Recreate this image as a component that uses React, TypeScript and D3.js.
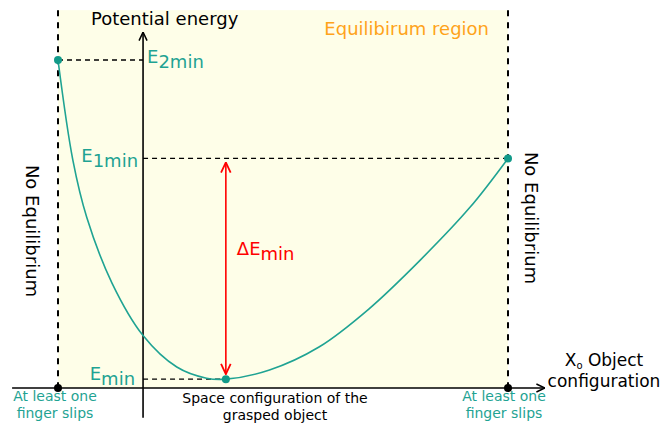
import React from "react";
import * as d3 from "d3";

// curve samples (x: 0 = left slip limit, 100 = right slip limit)
const curveX = [0, 3.3, 6.4, 12, 18.9, 26.4, 33, 37.3, 47, 58, 69, 80.5, 91.5, 100];
const curveY = [100, 69.5, 52, 32, 16, 6.4, 3, 2.7, 5.5, 12.5, 24, 39, 55, 70];

// energy levels
const levelNames = ["E2min", "E1min", "Emin"];
const levelX = [0, 100, 37.3];
const levelY = [100, 70, 2.7];

const yAxisAt = 18.9;
const slipX = [0, 100];
const xAxisExtent = [-10.2, 108.2];
const yAxisExtent = [-9.1, 108.5];
const regionTop = 115.2;

const teal = "#1fa393";
const dotTeal = "#129a89";
const font = "'DejaVu Sans', Verdana, sans-serif";

export default function App() {
  const width = 662;
  const height = 425;

  const x = d3.scaleLinear().domain([0, 100]).range([58, 508]);
  const y = d3.scaleLinear().domain([0, 100]).range([388, 60]);

  const pts: [number, number][] = curveX.map((d, i) => [d, curveY[i]]);
  const line = d3
    .line<[number, number]>()
    .x((d) => x(d[0]))
    .y((d) => y(d[1]))
    .curve(d3.curveCatmullRom.alpha(0.5));

  const ax = x(yAxisAt);
  const [e2, e1, e0] = levelNames.map((n, i) => ({ n, x: levelX[i], y: levelY[i] }));

  return (
    <svg
      width={width}
      height={height}
      style={{ position: "absolute", left: 0, top: 0, background: "#fff" }}
      fontFamily={font}
    >
      <defs>
        <marker
          id="open"
          viewBox="0 0 10 10"
          refX="9.5"
          refY="5"
          markerWidth="10"
          markerHeight="10"
          markerUnits="userSpaceOnUse"
          orient="auto-start-reverse"
        >
          <path d="M1,1 L9.5,5 L1,9" fill="none" stroke="#000" strokeWidth="1.5" />
        </marker>
        <marker
          id="red"
          viewBox="0 0 10 10"
          refX="9.5"
          refY="5"
          markerWidth="12"
          markerHeight="12"
          markerUnits="userSpaceOnUse"
          orient="auto-start-reverse"
        >
          <path d="M1,1 L9.5,5 L1,9" fill="none" stroke="#ff0000" strokeWidth="1.5" />
        </marker>
      </defs>

      {/* equilibrium region */}
      <rect
        x={x(slipX[0])}
        y={y(regionTop)}
        width={x(slipX[1]) - x(slipX[0])}
        height={y(0) - y(regionTop)}
        fill="#fefee8"
      />
      {slipX.map((s) => (
        <line
          key={s}
          x1={x(s)}
          x2={x(s)}
          y1={y(regionTop)}
          y2={y(0)}
          stroke="#000"
          strokeWidth={2}
          strokeDasharray="6,6"
        />
      ))}

      {/* level guides */}
      <g stroke="#000" strokeWidth={1.4} strokeDasharray="5,4">
        <line x1={x(e2.x)} x2={ax} y1={y(e2.y)} y2={y(e2.y)} />
        <line x1={ax} x2={x(e1.x)} y1={y(e1.y)} y2={y(e1.y)} />
        <line x1={ax} x2={x(e0.x)} y1={y(e0.y)} y2={y(e0.y)} />
      </g>

      {/* axes */}
      <line
        x1={x(xAxisExtent[0])}
        x2={x(xAxisExtent[1])}
        y1={y(0)}
        y2={y(0)}
        stroke="#000"
        strokeWidth={1.6}
        markerEnd="url(#open)"
      />
      <line
        x1={ax}
        x2={ax}
        y1={y(yAxisExtent[0])}
        y2={y(yAxisExtent[1])}
        stroke="#000"
        strokeWidth={1.6}
        markerEnd="url(#open)"
      />

      {/* curve */}
      <path d={line(pts) ?? ""} fill="none" stroke={teal} strokeWidth={1.6} />

      {/* delta arrow */}
      <line
        x1={x(e0.x)}
        x2={x(e0.x)}
        y1={y(e0.y) - 5}
        y2={y(e1.y) + 4}
        stroke="#ff0000"
        strokeWidth={1.6}
        markerStart="url(#red)"
        markerEnd="url(#red)"
      />

      {/* dots */}
      {[e2, e1, e0].map((d) => (
        <circle key={d.n} cx={x(d.x)} cy={y(d.y)} r={4} fill={dotTeal} />
      ))}
      {slipX.map((s) => (
        <circle key={s} cx={x(s)} cy={y(0)} r={4} fill="#000" />
      ))}

      {/* level labels */}
      <g fill={teal} fontSize={18}>
        <text x={ax + 4} y={y(e2.y) + 3}>
          E<tspan dy={4.5}>2min</tspan>
        </text>
        <text x={ax - 5} y={y(e1.y) + 4} textAnchor="end">
          E<tspan dy={4.5}>1min</tspan>
        </text>
        <text x={ax - 8} y={y(e0.y) + 1} textAnchor="end">
          E<tspan dy={4.5}>min</tspan>
        </text>
      </g>
      <text x={x(e0.x) + 11} y={255} fill="#ff0000" fontSize={18}>
        ΔE<tspan dy={4.5}>min</tspan>
      </text>

      {/* titles */}
      <text x={91} y={25} fontSize={18} fill="#000">
        Potential energy
      </text>
      <text x={489} y={35} fontSize={18} fill="#ffa31a" textAnchor="end">
        Equilibirum region
      </text>
      <text
        transform={`translate(32,231) rotate(90)`}
        fontSize={18}
        textAnchor="middle"
        dominantBaseline="central"
        fill="#000"
      >
        No Equilibrium
      </text>
      <text
        transform={`translate(531,218) rotate(90)`}
        fontSize={18}
        textAnchor="middle"
        dominantBaseline="central"
        fill="#000"
      >
        No Equilibrium
      </text>

      {/* x axis labels */}
      <text x={604} y={366} fontSize={17} textAnchor="middle" fill="#000">
        X<tspan fontSize={10} dy={3}>o</tspan>
        <tspan dy={-3}> Object</tspan>
      </text>
      <text x={604} y={387} fontSize={17} textAnchor="middle" fill="#000">
        configuration
      </text>
      <g fontSize={14} fill="#000" textAnchor="middle">
        <text x={275} y={402.5}>Space configuration of the</text>
        <text x={275} y={419.5}>grasped object</text>
      </g>
      <g fontSize={14} fill={teal} textAnchor="middle">
        {slipX.map((s, i) => (
          <g key={s}>
            <text x={i === 0 ? 55 : 504} y={400.5}>
              At least one
            </text>
            <text x={i === 0 ? 55 : 504} y={417.5}>
              finger slips
            </text>
          </g>
        ))}
      </g>
    </svg>
  );
}
